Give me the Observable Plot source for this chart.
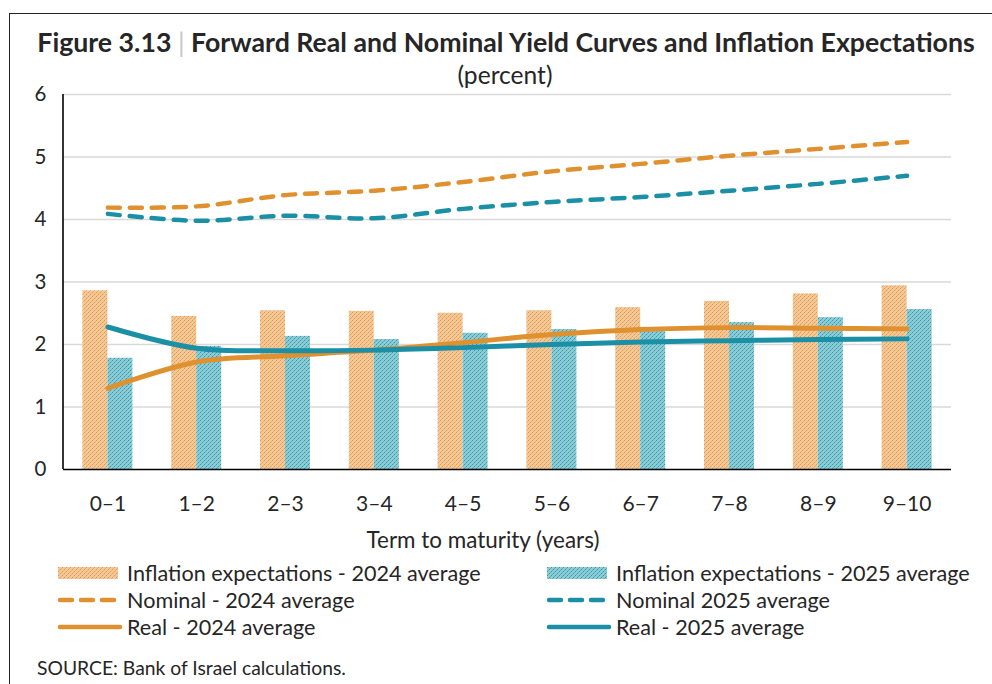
<!DOCTYPE html>
<html><head><meta charset="utf-8">
<script src="https://cdn.jsdelivr.net/npm/d3@7"></script>
<script src="https://cdn.jsdelivr.net/npm/@observablehq/plot@0.6"></script>
<style>
body{margin:0;background:#fff;font-family:Lato,"Open Sans",sans-serif;color:#262626;}
#wrap{position:relative;width:992px;height:684px;overflow:hidden;background:#fff}
#frame{position:absolute;left:9px;top:13px;width:1000px;height:700px;border:1.6px solid #222;box-sizing:border-box}
.t{position:absolute;white-space:nowrap;line-height:1}
.c{transform:translate(-50%,-50%)}
.l{transform:translate(0,-50%)}
#plot{position:absolute;left:0;top:80px}
.lg{position:absolute;display:flex;align-items:center;transform:translate(0,-50%);white-space:nowrap}
.lg svg{display:block}
</style></head>
<body>
<svg width="0" height="0" style="position:absolute">
  <defs>
    <pattern id="po" width="4" height="4" patternUnits="userSpaceOnUse">
      <rect width="4" height="4" fill="#F3C898"/>
      <rect x="0" y="0" width="1" height="1" fill="#E39A4A"/>
      <rect x="2" y="2" width="1" height="1" fill="#E39A4A"/>
      <rect x="1" y="3" width="1" height="1" fill="#EBB070"/>
      <rect x="3" y="1" width="1" height="1" fill="#EBB070"/>
    </pattern>
    <pattern id="pt" width="4" height="4" patternUnits="userSpaceOnUse">
      <rect width="4" height="4" fill="#8CCAD4"/>
      <rect x="0" y="0" width="1" height="1" fill="#2F9CB0"/>
      <rect x="2" y="2" width="1" height="1" fill="#2F9CB0"/>
      <rect x="1" y="3" width="1" height="1" fill="#5DB3C2"/>
      <rect x="3" y="1" width="1" height="1" fill="#5DB3C2"/>
    </pattern>
  </defs>
</svg>
<div id="wrap">
  <div id="frame"></div>
  <div class="t c" id="title" style="left:506px;top:42px;font-weight:700;font-size:23px">Figure 3.13 <span style="color:#c8c8c8;font-weight:400">|</span> Forward Real and Nominal Yield Curves and Inflation Expectations</div>
  <div class="t c" id="sub" style="left:505px;top:75px;font-size:19px">(percent)</div>
  <div id="plot"></div>
  <div class="t c" id="xt" style="left:483px;top:540px;font-size:19px">Term to maturity (years)</div>
  <div id="legend"></div>
  <div class="t l" id="src" style="left:37px;top:668px;font-size:16px">SOURCE: Bank of Israel calculations.</div>
</div>
<script>
const terms = ["0–1","1–2","2–3","3–4","4–5","5–6","6–7","7–8","8–9","9–10"];
const infl2024 = [2.86,2.45,2.54,2.53,2.50,2.54,2.59,2.69,2.81,2.94];
const infl2025 = [1.78,1.97,2.13,2.08,2.18,2.24,2.21,2.35,2.43,2.56];
const nom2024  = [4.19,4.21,4.39,4.46,4.60,4.77,4.89,5.02,5.13,5.24];
const nom2025  = [4.09,3.98,4.06,4.02,4.17,4.28,4.36,4.46,4.57,4.70];
const real2024 = [1.30,1.72,1.82,1.91,2.03,2.16,2.24,2.27,2.26,2.25];
const real2025 = [2.28,1.94,1.90,1.91,1.95,2.00,2.04,2.06,2.08,2.09];
const yTicks = [0,1,2,3,4,5,6];

const ORANGE = "#E0912F", TEAL = "#1A8FA6";
const rows = (vals) => terms.map((t,i)=>({term:t, v:vals[i]}));

const W = 992, ML = 63, MR = 41;
const band = (W-ML-MR)/terms.length;
const barW = 25;

const leftLine = (index, scales, values, dims) => {
  const l = document.createElementNS("http://www.w3.org/2000/svg","line");
  l.setAttribute("x1", dims.marginLeft); l.setAttribute("x2", dims.marginLeft);
  l.setAttribute("y1", scales.y(6)); l.setAttribute("y2", scales.y(0));
  l.setAttribute("stroke","#000"); l.setAttribute("stroke-width","1.6");
  return l;
};

const chart = Plot.plot({
  width: W, height: 475,
  marginLeft: ML, marginRight: MR, marginTop: 14, marginBottom: 86,
  style: {fontFamily: "Lato, 'Open Sans', sans-serif", fontSize: "20px", color: "#262626", background: "transparent"},
  x: {type: "band", domain: terms, padding: 0, round: false},
  y: {domain: [0, 6]},
  marks: [
    Plot.gridY(yTicks.filter(d=>d>0), {stroke: "#d9d9d9", strokeWidth: 1.6, strokeOpacity: 1}),
    Plot.barY(rows(infl2024), {x: "term", y: "v", fill: "url(#po)", insetLeft: band/2 - barW, insetRight: band/2}),
    Plot.barY(rows(infl2025), {x: "term", y: "v", fill: "url(#pt)", insetLeft: band/2, insetRight: band/2 - barW}),
    Plot.line(rows(nom2024), {x: "term", y: "v", stroke: ORANGE, strokeWidth: 4.5, strokeDasharray: "12,10", strokeLinecap: "round", curve: "catmull-rom"}),
    Plot.line(rows(nom2025), {x: "term", y: "v", stroke: TEAL, strokeWidth: 4.5, strokeDasharray: "12,10", strokeLinecap: "round", curve: "catmull-rom"}),
    Plot.line(rows(real2024), {x: "term", y: "v", stroke: ORANGE, strokeWidth: 5, strokeLinecap: "round", curve: "catmull-rom"}),
    Plot.line(rows(real2025), {x: "term", y: "v", stroke: TEAL, strokeWidth: 5, strokeLinecap: "round", curve: "catmull-rom"}),
    Plot.ruleY([0], {stroke: "#000", strokeWidth: 1.6}),
    leftLine,
    Plot.axisY({ticks: yTicks, tickSize: 0, tickPadding: 17, fontSize: 20.5, label: null, tickFormat: d3.format("d")}),
    Plot.axisX({tickSize: 0, tickPadding: 27, fontSize: 21, label: null})
  ]
});
document.getElementById("plot").appendChild(chart);

// legend
const legendItems = [
  {label: "Inflation expectations - 2024 average", kind: "bar", fill: "url(#po)", col: 0, row: 0},
  {label: "Inflation expectations - 2025 average", kind: "bar", fill: "url(#pt)", col: 1, row: 0},
  {label: "Nominal - 2024 average", kind: "dash", color: ORANGE, col: 0, row: 1},
  {label: "Nominal 2025 average", kind: "dash", color: TEAL, col: 1, row: 1},
  {label: "Real - 2024 average", kind: "solid", color: ORANGE, col: 0, row: 2},
  {label: "Real - 2025 average", kind: "solid", color: TEAL, col: 1, row: 2}
];
const colX = [56, 545], rowY = [573, 600, 627];
const lg = document.getElementById("legend");
for (const it of legendItems) {
  const d = document.createElement("div");
  d.className = "lg";
  d.style.left = colX[it.col] + "px";
  d.style.top = rowY[it.row] + "px";
  let sw;
  if (it.kind === "bar") sw = `<svg width="70" height="16"><rect x="2" y="2" width="60" height="12" fill="${it.fill}"/></svg>`;
  else if (it.kind === "dash") sw = `<svg width="70" height="16"><line x1="4" x2="62" y1="8" y2="8" stroke="${it.color}" stroke-width="4.5" stroke-linecap="round" stroke-dasharray="12,9"/></svg>`;
  else sw = `<svg width="70" height="16"><line x1="4" x2="64" y1="8" y2="8" stroke="${it.color}" stroke-width="4.5" stroke-linecap="round"/></svg>`;
  d.innerHTML = sw + `<span style="font-size:21.6px;margin-left:1px">${it.label}</span>`;
  lg.appendChild(d);
}

// fit text widths to the reference layout
function fit(el, target) {
  const fs = parseFloat(getComputedStyle(el).fontSize);
  const w = el.getBoundingClientRect().width;
  el.style.fontSize = (fs * target / w) + "px";
}
fit(document.getElementById("title"), 938);
fit(document.getElementById("xt"), 233);
fit(document.getElementById("src"), 309);
fit(document.getElementById("sub"), 95);
</script>
</body></html>
